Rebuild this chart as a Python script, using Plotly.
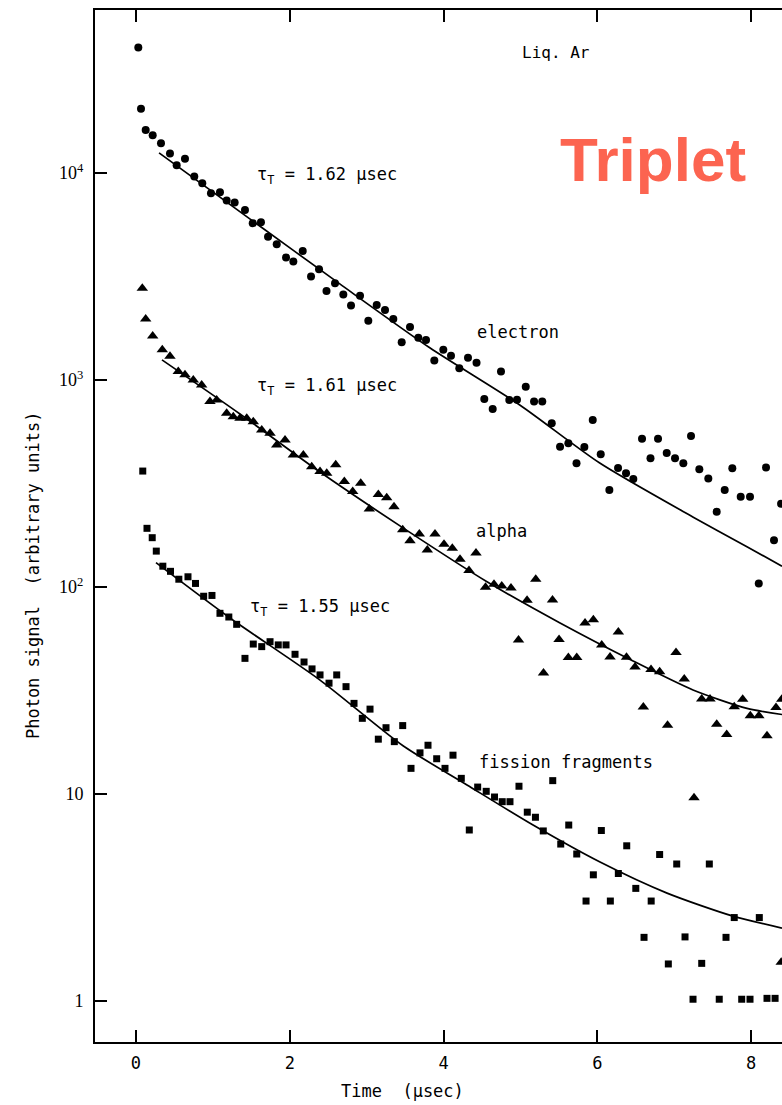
import plotly.graph_objects as go

# ---------------- data ----------------
electron_t = [0.03, 0.065, 0.126, 0.217, 0.325, 0.442, 0.529, 0.637, 0.758, 0.862,
              0.975, 1.092, 1.179, 1.283, 1.417, 1.518, 1.625, 1.717, 1.830, 1.951,
              2.046, 2.168, 2.276, 2.380, 2.477, 2.588, 2.696, 2.796, 2.913, 3.021,
              3.130, 3.238, 3.346, 3.455, 3.563, 3.671, 3.771, 3.879, 3.996, 4.096,
              4.204, 4.317, 4.428, 4.529, 4.638, 4.746, 4.854, 4.954, 5.068, 5.176,
              5.283, 5.406, 5.514, 5.622, 5.728, 5.830, 5.939, 6.043, 6.155, 6.268,
              6.372, 6.467, 6.580, 6.690, 6.788, 6.901, 7.009, 7.117, 7.217, 7.325,
              7.442, 7.551, 7.655, 7.754, 7.863, 7.984, 8.098, 8.192, 8.296, 8.388]
electron_signal = [40300, 20400, 16100, 15200, 13900, 12400, 10900, 11700, 9600, 8920,
                   7980, 8070, 7350, 7190, 6630, 5720, 5780, 4920, 4520, 3900,
                   3730, 4200, 3160, 3430, 2690, 2930, 2590, 2290, 2550, 1930,
                   2300, 2180, 1970, 1520, 1800, 1600, 1560, 1240, 1400, 1310,
                   1140, 1280, 1210, 810, 723, 1100, 801, 803, 928, 786,
                   786, 618, 476, 495, 396, 475, 641, 438, 294, 376,
                   354, 332, 520, 419, 520, 444, 419, 396, 536, 370,
                   334, 231, 294, 375, 273, 273, 104, 378, 168, 252]

alpha_t = [0.082, 0.126, 0.217, 0.342, 0.442, 0.550, 0.637, 0.745, 0.854, 0.962,
           1.049, 1.179, 1.265, 1.352, 1.440, 1.525, 1.635, 1.743, 1.830, 1.938,
           2.046, 2.176, 2.285, 2.393, 2.480, 2.597, 2.709, 2.818, 2.922, 3.034,
           3.151, 3.260, 3.355, 3.468, 3.563, 3.684, 3.788, 3.888, 4.005, 4.113,
           4.213, 4.330, 4.421, 4.545, 4.655, 4.756, 4.876, 4.974, 5.085, 5.198,
           5.299, 5.416, 5.501, 5.622, 5.731, 5.839, 5.947, 6.056, 6.164, 6.272,
           6.378, 6.489, 6.597, 6.697, 6.809, 6.912, 7.022, 7.129, 7.256, 7.356,
           7.464, 7.551, 7.681, 7.779, 7.889, 7.988, 8.099, 8.205, 8.322, 8.397,
           8.39]
alpha_signal = [2770, 1970, 1630, 1400, 1300, 1100, 1060, 1000, 946, 786,
                801, 690, 665, 653, 653, 629, 573, 553, 485, 513,
                434, 434, 381, 361, 354, 389, 323, 289, 317, 238,
                280, 270, 244, 189, 167, 180, 151, 180, 161, 154,
                136, 120, 146, 99.7, 103, 101, 98.9, 55.5, 86.2, 109,
                38.4, 86.5, 55.7, 45.6, 45.6, 67, 69.5, 52.5, 45.9, 60.6,
                45.8, 41.1, 26.3, 39.9, 38.9, 21.5, 48.2, 35.9, 9.6, 28.8,
                28.8, 21.7, 19.4, 26.4, 28.7, 23.9, 23.9, 19.1, 26.2, 28.7,
                1.54]

fission_t = [0.088, 0.143, 0.211, 0.264, 0.349, 0.449, 0.557, 0.676, 0.774, 0.880,
             0.988, 1.092, 1.207, 1.309, 1.417, 1.525, 1.635, 1.743, 1.850, 1.951,
             2.068, 2.185, 2.289, 2.393, 2.510, 2.610, 2.731, 2.835, 2.943, 3.043,
             3.151, 3.251, 3.359, 3.468, 3.576, 3.693, 3.797, 3.910, 4.018, 4.122,
             4.230, 4.334, 4.443, 4.554, 4.662, 4.762, 4.863, 4.980, 5.088, 5.194,
             5.296, 5.419, 5.523, 5.627, 5.731, 5.852, 5.947, 6.051, 6.168, 6.272,
             6.381, 6.499, 6.606, 6.699, 6.809, 6.922, 7.031, 7.139, 7.243, 7.356,
             7.455, 7.584, 7.672, 7.779, 7.876, 7.984, 8.105, 8.205, 8.310]
fission_signal = [363, 192, 173, 149, 126, 119, 109, 112, 104, 90.2,
                  91, 74.6, 71.6, 66, 45.2, 53, 51.5, 54.4, 52.5, 52.5,
                  47.3, 43.4, 40.2, 37.6, 34.3, 37.6, 33, 27.4, 23.2, 25.7,
                  18.4, 20.9, 17.9, 21.4, 13.3, 15.8, 17.2, 14.8, 13.3, 15.4,
                  11.9, 6.7, 10.8, 10.3, 9.67, 9.18, 9.18, 10.9, 8.17, 7.72,
                  6.63, 11.6, 5.73, 7.08, 5.13, 3.04, 4.07, 6.66, 3.04, 4.13,
                  5.62, 3.5, 2.03, 3.04, 5.1, 1.51, 4.59, 2.04, 1.02, 1.52,
                  4.59, 1.02, 2.03, 2.53, 1.02, 1.02, 2.53, 1.03, 1.03]

# fitted curves
electron_fit_t = [0.30, 1.48, 2.65, 3.82, 4.99, 6.03, 7.24, 7.95, 8.40]
electron_fit = [12500, 6000, 2910, 1430, 757, 397, 218, 156, 126]
alpha_fit_t = [0.338, 1.352, 2.393, 3.472, 4.564, 5.514, 6.463, 7.243, 7.945, 8.40]
alpha_fit = [1250, 685, 359, 193, 106, 67, 43.9, 31.8, 25.9, 24.2]
fission_fit_t = [0.260, 1.222, 2.393, 3.472, 4.304, 5.163, 6.034, 6.905, 7.763, 8.40]
fission_fit = [131, 70.8, 35.5, 17.1, 11.06, 7.08, 4.69, 3.32, 2.57, 2.25]

x_ticks = [0, 2, 4, 6, 8]
x_tick_labels = ["0", "2", "4", "6", "8"]
y_ticks = [1, 10, 100, 1000, 10000]
y_tick_labels = ["1", "10", "10<sup>2</sup>", "10<sup>3</sup>", "10<sup>4</sup>"]

# ---------------- figure ----------------
MONO = "DejaVu Sans Mono"
SERIF = "Liberation Serif"

fig = go.Figure()

for xs, ys, sym, sz in [(electron_t, electron_signal, "circle", 8),
                        (alpha_t, alpha_signal, "triangle-up", 10),
                        (fission_t, fission_signal, "square", 7)]:
    fig.add_trace(go.Scatter(x=xs, y=ys, mode="markers",
                             marker=dict(symbol=sym, size=sz, color="black",
                                         line=dict(width=0)),
                             showlegend=False, cliponaxis=True))

for xs, ys in [(electron_fit_t, electron_fit), (alpha_fit_t, alpha_fit),
               (fission_fit_t, fission_fit)]:
    fig.add_trace(go.Scatter(x=xs, y=ys, mode="lines",
                             line=dict(color="black", width=1.7, shape="spline",
                                       smoothing=0.7),
                             showlegend=False))

fig.update_xaxes(range=[-0.533, 8.40], tickvals=x_ticks, ticktext=x_tick_labels,
                 ticks="inside", ticklen=12, tickwidth=2, tickcolor="black",
                 showline=True, linecolor="black", linewidth=2, mirror="ticks",
                 showgrid=False, zeroline=False,
                 tickfont=dict(family=MONO, size=17, color="black"),
                 ticklabelstandoff=5)
fig.update_yaxes(type="log", range=[-0.198, 4.787], tickvals=y_ticks,
                 ticktext=y_tick_labels,
                 ticks="inside", ticklen=12, tickwidth=2, tickcolor="black",
                 showline=True, linecolor="black", linewidth=2, mirror=False,
                 showgrid=False, zeroline=False,
                 tickfont=dict(family=SERIF, size=18, color="black"),
                 ticklabelstandoff=6)

def ann(text, x, y, size=17, family=MONO, color="black", xanchor="center",
        yanchor="middle", angle=0):
    fig.add_annotation(text=text, x=x, y=y, xref="paper", yref="paper",
                       showarrow=False, xanchor=xanchor, yanchor=yanchor,
                       textangle=angle,
                       font=dict(family=family, size=size, color=color))

ann("Liq. Ar", 0.671, 0.9593, size=16)
ann("<b>Triplet</b>", 0.812, 0.855, size=62, family="Liberation Sans",
    color="rgb(252,100,80)")
ann("τ<sub>T</sub> = 1.62 μsec", 0.2329, 0.840, size=17, xanchor="left")
ann("τ<sub>T</sub> = 1.61 μsec", 0.2329, 0.6347, size=17, xanchor="left")
ann("τ<sub>T</sub> = 1.55 μsec", 0.2227, 0.4215, size=17, xanchor="left")
ann("electron", 0.6157, 0.688, size=17)
ann("alpha", 0.5924, 0.4952, size=17)
ann("fission fragments", 0.6856, 0.2713, size=17)
ann("Time  (μsec)", 0.4469, -0.0475, size=17)
ann("Photon signal  (arbitrary units)", -0.0902, 0.4525, size=17, angle=-90)

fig.update_layout(width=782, height=1105,
                  margin=dict(l=95, r=0, t=10, b=63),
                  paper_bgcolor="white", plot_bgcolor="white",
                  showlegend=False)

fig.write_html("out.html")
